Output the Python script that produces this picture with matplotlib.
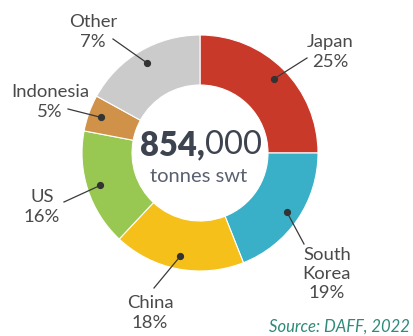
import numpy as np
import matplotlib.pyplot as plt

plt.rcParams["font.family"] = ["Lato", "DejaVu Sans"]

# data, clockwise from 12 o'clock
countries = ["Japan", "South\nKorea", "China", "US", "Indonesia", "Other"]
shares = [25, 19, 18, 16, 5, 17]          # wedge sizes as drawn
pct_labels = ["25%", "19%", "18%", "16%", "5%", "7%"]
colors = ["#C9392A", "#3AB0C8", "#F6C01A", "#98C852", "#D09149", "#CBCBCB"]
total_main = "854,"
total_rest = "000"
total_unit = "tonnes swt"
source = "Source: DAFF, 2022"

W, H = 414, 336
CX, CY, R = 200, H - 153, 118

# leader line end (pixel coords, y down) and label centre for each wedge
line_ends = [(307, 58), (304, 244), (154, 288), (64, 202), (68, 109), (113, 39)]
text_pos = [(330, 52), (327, 274), (150, 313), (42, 207), (50, 102), (93, 32)]


def main():
    fig = plt.figure(figsize=(W / 100, H / 100), dpi=100)
    ax = fig.add_axes([0, 0, 1, 1])

    wedges, _ = ax.pie(
        shares,
        colors=colors,
        startangle=90,
        counterclock=False,
        center=(CX, CY),
        radius=R,
        wedgeprops=dict(width=50, edgecolor="white", linewidth=0.8),
        frame=True,
    )
    ax.set_xlim(0, W)
    ax.set_ylim(0, H)
    ax.axis("off")

    for w, (lx, ly), (tx, ty), name, pct in zip(
        wedges, line_ends, text_pos, countries, pct_labels
    ):
        mid = np.deg2rad((w.theta1 + w.theta2) / 2)
        mx = CX + 0.89 * R * np.cos(mid)
        my = CY + 0.89 * R * np.sin(mid)
        ax.plot([mx, lx], [my, H - ly], color="#3a3a3a", lw=0.9, zorder=5)
        ax.plot(mx, my, "o", ms=4.2, color="#333333", zorder=6)
        ax.text(tx, H - ty, f"{name}\n{pct}", ha="center", va="center",
                fontsize=13.3, color="#4a4a4a", linespacing=1.25, zorder=7)

    # centre total
    ax.text(205, H - 145, total_main, ha="right", va="center",
            fontsize=23.5, fontweight="heavy", color="#3d4450")
    ax.text(205, H - 145, total_rest, ha="left", va="center",
            fontsize=23.5, color="#3d4450")
    ax.text(199, H - 177, total_unit, ha="center", va="center",
            fontsize=14.5, color="#5a6070")

    ax.text(410, H - 327, source, ha="right", va="center", fontsize=12,
            style="italic", color="#2E8A7A")

    fig.savefig("out.png", dpi=100)


if __name__ == "__main__":
    main()
